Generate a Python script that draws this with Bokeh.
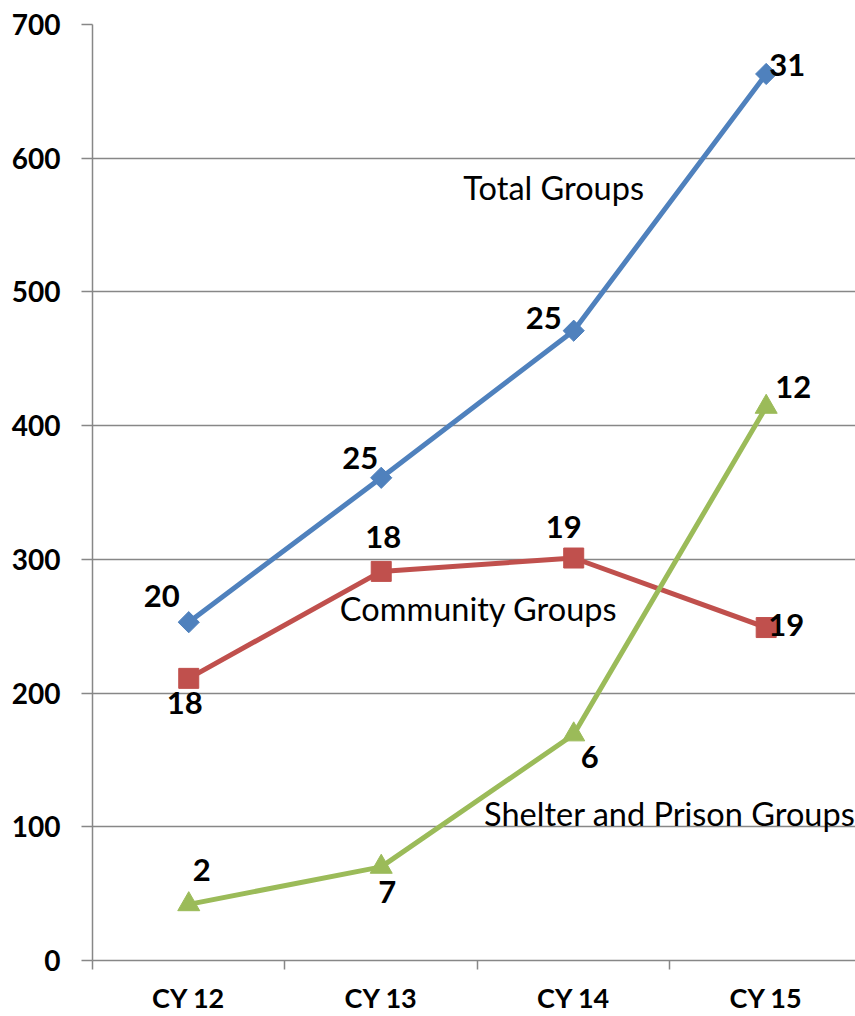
import math
from bokeh.plotting import figure
from bokeh.models import Range1d, FixedTicker, ColumnDataSource, LabelSet, Label
from bokeh.core.properties import value
from bokeh.embed import file_html
from bokeh.resources import INLINE

categories = ["CY 12", "CY 13", "CY 14", "CY 15"]
total_values = [253, 361, 471, 663]
community_values = [211, 291, 301, 249]
shelter_values = [42, 70, 169, 414]
total_labels = ["20", "25", "25", "31"]
community_labels = ["18", "18", "19", "19"]
shelter_labels = ["2", "7", "6", "12"]
y_ticks = [0, 100, 200, 300, 400, 500, 600, 700]

FONT = "Lato"
GRID = "#878787"
BLUE = "#4F81BD"
RED = "#C0504D"
GREEN = "#9BBB59"

xs = list(range(len(categories)))

p = figure(width=855, height=1016, output_backend="svg", toolbar_location=None,
           x_range=Range1d(-0.5, 3.464), y_range=Range1d(0, 700),
           min_border_left=92, min_border_right=0, min_border_top=24, min_border_bottom=20)
p.outline_line_color = None
p.background_fill_color = "white"
p.border_fill_color = "white"

# y axis
p.yaxis.ticker = FixedTicker(ticks=y_ticks)
p.yaxis.axis_line_color = GRID
p.yaxis.axis_line_width = 1.5
p.yaxis.major_tick_line_color = GRID
p.yaxis.major_tick_line_width = 1.5
p.yaxis.major_tick_out = 11
p.yaxis.major_tick_in = 0
p.yaxis.minor_tick_line_color = None
p.yaxis.major_label_text_font = FONT
p.yaxis.major_label_text_font_style = "bold"
p.yaxis.major_label_text_font_size = "28px"
p.yaxis.major_label_text_color = "black"
p.yaxis.major_label_standoff = 21

# x axis
p.xaxis.ticker = FixedTicker(ticks=xs, minor_ticks=[-0.5, 0.5, 1.5, 2.5, 3.5])
p.xaxis.major_label_overrides = {i: c for i, c in enumerate(categories)}
p.xaxis.axis_line_color = GRID
p.xaxis.axis_line_width = 1.5
p.xaxis.major_tick_line_color = None
p.xaxis.major_tick_out = 0
p.xaxis.major_tick_in = 0
p.xaxis.minor_tick_line_color = GRID
p.xaxis.minor_tick_line_width = 1.5
p.xaxis.minor_tick_out = 9
p.xaxis.minor_tick_in = 0
p.xaxis.major_label_text_font = FONT
p.xaxis.major_label_text_font_style = "bold"
p.xaxis.major_label_text_font_size = "27px"
p.xaxis.major_label_text_color = "black"
p.xaxis.major_label_standoff = 11

p.xgrid.grid_line_color = None
p.ygrid.grid_line_color = GRID
p.ygrid.grid_line_width = 1.5

series = [
    (total_values, total_labels, BLUE, "square", 15, math.pi / 4,
     [-27, -21, -30, 21], [26, 20, 13, 9]),
    (community_values, community_labels, RED, "square", 20, 0,
     [-4, 2, -10, 20], [-25, 34, 31, 3]),
    (shelter_values, shelter_labels, GREEN, "triangle", 22, 0,
     [13, 6, 16, 27], [34, -25, -22, 20]),
]

for vals, labs, color, marker, msize, ang, xo, yo in series:
    src = ColumnDataSource(dict(x=xs, y=vals, t=labs, xo=xo, yo=yo))
    p.line("x", "y", source=src, line_color=color, line_width=5)
    p.scatter("x", "y", source=src, marker=marker, size=msize, angle=ang,
              fill_color=color, line_color=color)
    p.add_layout(LabelSet(x="x", y="y", text="t", source=src,
                          x_offset="xo", y_offset="yo",
                          text_font=value(FONT), text_font_style="bold",
                          text_font_size="31px", text_color="black",
                          text_align="center", text_baseline="middle"))

series_names = ["Total Groups", "Community Groups", "Shelter and Prison Groups"]
name_x = [1.896, 1.506, 2.499]
name_y = [578, 263, 110]
for name, nx, ny in zip(series_names, name_x, name_y):
    p.add_layout(Label(x=nx, y=ny, text=name, text_font=FONT,
                       text_font_size="32.5px", text_color="black",
                       text_align="center", text_baseline="middle"))

open("out.html", "w").write(file_html(p, INLINE))
